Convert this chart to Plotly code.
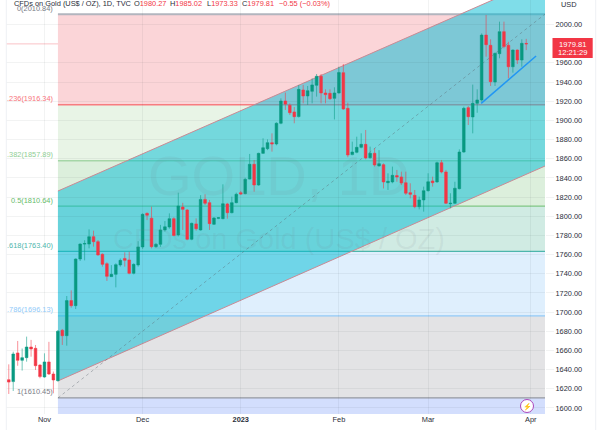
import plotly.graph_objects as go

# candles, trading day number relative to 1 Nov 2022
days = list(range(-8, 109))
opens = [1629.5, 1627.5, 1657.4, 1649.7, 1652.5, 1663.6, 1662.2, 1644.8, 1632.3, 1648.0, 1635.4,
         1628.5, 1681.0, 1675.4, 1712.0, 1706.7, 1755.4, 1771.0, 1771.0, 1778.7, 1773.5, 1760.3,
         1750.5, 1737.0, 1739.4, 1749.2, 1756.0, 1754.4, 1740.5, 1749.2, 1768.0, 1803.0, 1798.0,
         1768.3, 1770.7, 1785.7, 1788.8, 1797.5, 1780.5, 1809.6, 1806.5, 1776.0, 1792.0, 1785.7,
         1817.6, 1814.2, 1791.6, 1797.8, 1797.5, 1812.8, 1803.7, 1814.2, 1824.6, 1823.6, 1838.8,
         1854.2, 1832.6, 1865.6, 1870.5, 1876.8, 1875.4, 1897.0, 1920.2, 1915.7, 1908.8, 1904.0,
         1931.7, 1925.5, 1930.3, 1936.6, 1946.0, 1928.6, 1928.2, 1923.0, 1928.6, 1949.8, 1912.6,
         1864.3, 1866.7, 1871.9, 1875.0, 1861.0, 1865.7, 1852.5, 1853.8, 1835.0, 1835.8, 1842.4,
         1841.0, 1835.0, 1824.6, 1821.8, 1810.0, 1817.0, 1826.7, 1836.8, 1835.8, 1855.9, 1846.2,
         1813.0, 1813.5, 1828.8, 1867.0, 1913.3, 1903.6, 1917.8, 1921.3, 1989.0, 1978.3, 1940.0,
         1969.6, 1992.6, 1978.3, 1956.0, 1973.4, 1963.0, 1980.27]
highs = [1645.5, 1658.7, 1669.9, 1662.0, 1674.4, 1671.0, 1665.7, 1645.5, 1657.0, 1669.0, 1638.0,
         1681.3, 1682.4, 1716.8, 1722.7, 1756.0, 1771.7, 1775.0, 1786.3, 1785.0, 1775.2, 1761.3,
         1752.0, 1749.0, 1750.9, 1756.0, 1762.4, 1763.0, 1750.9, 1774.0, 1803.0, 1804.0, 1810.0,
         1772.0, 1791.0, 1795.0, 1803.0, 1799.0, 1824.6, 1814.0, 1807.5, 1793.3, 1797.8, 1822.0,
         1823.0, 1817.0, 1799.0, 1799.0, 1833.3, 1814.0, 1820.4, 1824.6, 1826.4, 1840.2, 1865.0,
         1858.7, 1866.3, 1881.3, 1880.2, 1886.5, 1898.0, 1923.0, 1929.0, 1917.8, 1914.0, 1937.0,
         1937.0, 1935.9, 1943.9, 1948.4, 1948.4, 1932.4, 1932.4, 1934.5, 1956.0, 1958.8, 1918.5,
         1877.8, 1883.0, 1886.5, 1890.0, 1872.6, 1870.9, 1869.0, 1855.2, 1844.8, 1851.8, 1848.3,
         1846.5, 1846.5, 1834.4, 1827.4, 1820.5, 1830.9, 1844.8, 1841.3, 1857.0, 1858.7, 1848.3,
         1824.0, 1836.0, 1869.8, 1914.3, 1915.0, 1937.3, 1932.4, 1990.8, 2010.0, 1984.6, 1970.7,
         2003.0, 2003.0, 1982.0, 1974.0, 1974.0, 1984.6, 1985.02]
lows = [1614.6, 1617.7, 1644.0, 1639.0, 1648.3, 1653.5, 1639.6, 1631.0, 1631.6, 1634.4, 1615.3,
        1627.5, 1665.7, 1665.0, 1704.6, 1703.2, 1753.3, 1754.0, 1766.5, 1768.3, 1758.9, 1747.4,
        1732.5, 1737.0, 1725.8, 1747.4, 1747.4, 1739.4, 1739.4, 1747.4, 1766.0, 1796.0, 1766.5,
        1767.0, 1768.0, 1784.0, 1787.0, 1779.0, 1779.0, 1785.7, 1775.0, 1775.0, 1785.0, 1785.0,
        1811.7, 1785.7, 1790.9, 1797.0, 1796.8, 1797.5, 1803.0, 1813.5, 1822.2, 1822.9, 1838.5,
        1825.6, 1831.9, 1865.0, 1869.0, 1867.4, 1874.0, 1896.0, 1910.9, 1905.6, 1897.0, 1903.0,
        1917.8, 1916.1, 1917.8, 1924.8, 1917.8, 1917.8, 1921.3, 1901.0, 1928.0, 1911.0, 1861.5,
        1863.6, 1865.7, 1870.9, 1859.4, 1860.1, 1851.8, 1851.8, 1829.0, 1827.4, 1834.4, 1836.0,
        1832.6, 1822.2, 1818.7, 1808.3, 1807.2, 1804.8, 1825.7, 1830.9, 1835.0, 1844.8, 1812.8,
        1808.3, 1812.8, 1828.0, 1866.3, 1895.2, 1886.5, 1908.0, 1919.6, 1966.5, 1935.9, 1935.9,
        1964.8, 1975.2, 1943.9, 1949.8, 1958.8, 1956.0, 1973.33]
closes = [1627.0, 1656.3, 1649.7, 1652.5, 1663.6, 1661.5, 1644.1, 1632.7, 1648.0, 1635.4, 1629.2,
          1680.0, 1675.4, 1712.0, 1706.7, 1755.4, 1771.0, 1771.5, 1778.7, 1773.5, 1759.6, 1749.8,
          1737.3, 1739.4, 1749.5, 1754.0, 1754.0, 1740.5, 1749.8, 1768.0, 1802.0, 1801.0, 1768.3,
          1770.7, 1785.7, 1789.0, 1797.5, 1780.0, 1810.7, 1807.2, 1776.0, 1792.6, 1787.0, 1817.6,
          1813.5, 1792.3, 1798.2, 1798.5, 1813.1, 1803.7, 1814.2, 1822.9, 1823.2, 1838.5, 1854.2,
          1832.6, 1865.6, 1871.5, 1876.8, 1875.4, 1897.0, 1920.2, 1917.0, 1908.0, 1903.9, 1932.4,
          1925.5, 1931.0, 1937.0, 1946.0, 1928.6, 1926.9, 1922.7, 1928.6, 1950.0, 1911.9, 1863.9,
          1867.0, 1871.9, 1875.0, 1860.8, 1865.7, 1853.5, 1854.9, 1835.8, 1836.5, 1842.7, 1841.0,
          1834.7, 1824.0, 1822.9, 1810.0, 1817.0, 1826.7, 1836.0, 1835.0, 1855.9, 1846.2, 1813.5,
          1813.5, 1829.2, 1867.0, 1912.6, 1903.9, 1917.8, 1921.3, 1989.0, 1979.0, 1940.4, 1970.0,
          1992.6, 1977.0, 1956.0, 1973.4, 1963.0, 1980.4, 1979.81]

# x axis
tick_days = [0, 22, 44, 66, 86, 109]
tick_labels = ["Nov", "Dec", "<b>2023</b>", "Feb", "Mar", "Apr"]
x_range = [-8.62, 112.2]
y_range = [1593.7, 2025.6]

# price ticks, 1980 sits behind the price tag
price_ticks = [1600, 1620, 1640, 1660, 1680, 1700, 1720, 1740, 1760, 1780, 1800, 1820, 1840, 1860,
               1880, 1900, 1920, 1940, 1960, 2000]

# fib retracement
fib_prices = [2010.84, 1916.34, 1857.89, 1810.64, 1763.40, 1696.13, 1610.45]
fib_names = ["0", ".236", ".382", "0.5", ".618", ".786", "1"]
fib_lines = ["#b2b5be", "#f77c80", "#a5d6a7", "#81c784", "#4db6ac", "#90caf9", "#9598a1"]
fib_text = ["#787b86", "#f7737a", "#8fce93", "#66bb6a", "#4db6ac", "#90caf9", "#787b86"]
fib_fills = ["#fbd5d8", "#e8f4e6", "#dcefdc", "#d0ebe3", "#dfeffd", "#e3e3e5", "#d3defd"]
fib_start = 3.02

# parallel channel
channel_x = [3.02, 112.2]
channel_upper = [1826.3, 2049.6]
channel_lower = [1628.2, 1852.4]
median_y = [1610.45, 2010.84]

# blue trend line
trend_x = [97.9, 110.2]
trend_y = [1917.8, 1967.2]

last_price = 1979.81

GREEN = "#089981"
RED = "#f23645"
FONT = "Liberation Sans"
TXT = "#2a2e39"

fig = go.Figure()

fig.add_trace(go.Candlestick(
    x=days, open=opens, high=highs, low=lows, close=closes,
    increasing=dict(line=dict(color="rgba(8,153,129,0.55)", width=1), fillcolor=GREEN),
    decreasing=dict(line=dict(color="rgba(242,54,69,0.55)", width=1), fillcolor=RED),
    whiskerwidth=0, showlegend=False, hoverinfo="skip",
))
fig.add_trace(go.Scatter(x=trend_x, y=trend_y, mode="lines", showlegend=False, hoverinfo="skip",
                         line=dict(color="#2196f3", width=1.5)))

shapes = []
# bands, the last one runs to the bottom of the plot
band_edges = fib_prices + [y_range[0]]
for i in range(7):
    shapes.append(dict(type="rect", layer="below", xref="x", yref="y", x0=fib_start, x1=x_range[1],
                       y0=band_edges[i], y1=band_edges[i + 1], fillcolor=fib_fills[i], line_width=0))
for i, p in enumerate(fib_prices):
    shapes.append(dict(type="line", layer="below", xref="x", yref="y", x0=fib_start, x1=x_range[1],
                       y0=p, y1=p, line=dict(color=fib_lines[i], width=2 if i == 0 else 1.3)))
# channel goes over the fib levels
channel_path = (f"M {channel_x[0]} {channel_upper[0]} L {channel_x[1]} {channel_upper[1]} "
                f"L {channel_x[1]} {channel_lower[1]} L {channel_x[0]} {channel_lower[0]} Z")
shapes.append(dict(type="path", layer="below", xref="x", yref="y", path=channel_path,
                   fillcolor="rgba(0,188,212,0.5)", line_width=0))
for edge in [channel_upper, channel_lower]:
    shapes.append(dict(type="line", layer="below", xref="x", yref="y", x0=channel_x[0], x1=channel_x[1],
                       y0=edge[0], y1=edge[1], line=dict(color="#c98a94", width=1)))
shapes.append(dict(type="line", layer="below", xref="x", yref="y", x0=channel_x[0], x1=channel_x[1],
                   y0=median_y[0], y1=median_y[1], line=dict(color="rgba(90,100,110,0.4)", width=1, dash="3px,3px")))
# last price line
shapes.append(dict(type="line", layer="below", xref="paper", yref="y", x0=0, x1=1, y0=last_price, y1=last_price,
                   line=dict(color="rgba(242,54,69,0.3)", width=1)))


def px_x(p):
    return (p - 6) / 539


def px_y(p):
    return (414 - p) / 414


# outer borders of the widget
for p in [6.3, 595.7]:
    shapes.append(dict(type="line", xref="paper", yref="paper", x0=px_x(p), x1=px_x(p), y0=px_y(0), y1=px_y(430),
                       line=dict(color="#eef0f4", width=1)))
# price tag and the lightning badge
shapes.append(dict(type="rect", xref="paper", yref="paper", x0=px_x(552.5), x1=px_x(592.7), y0=px_y(38), y1=px_y(58),
                   fillcolor=RED, line_width=0))
shapes.append(dict(type="circle", xref="paper", yref="paper", x0=px_x(520.5), x1=px_x(533.5), y0=px_y(399.5), y1=px_y(412.5),
                   fillcolor="#ffffff", line=dict(color="#ab47bc", width=1)))

annotations = []


def label(px, py, text, size=7.4, color=TXT, anchor="left"):
    annotations.append(dict(xref="paper", yref="paper", x=px_x(px), y=px_y(py), text=text, showarrow=False,
                            xanchor=anchor, yanchor="middle", font=dict(family=FONT, size=size, color=color)))


# watermark
label(278, 175, "GOLD, 1D", 56, "rgba(120,123,134,0.10)", "center")
label(279, 239, "CFDs on Gold (US$ / OZ)", 29, "rgba(120,123,134,0.10)", "center")

# fib labels
for i, p in enumerate(fib_prices):
    annotations.append(dict(xref="x", yref="y", x=fib_start, y=p, text=f"{fib_names[i]}({p:.2f})", showarrow=False,
                            xanchor="right", yanchor="middle", xshift=-3, yshift=6,
                            font=dict(family=FONT, size=7.4, color=fib_text[i])))

# legend row
label(11.7, 3.5, "CFDs on Gold (US$ / OZ), 1D, TVC")
label(132, 3.5, f'O<span style="color:{RED}">1980.27</span>')
label(168.3, 3.5, f'H<span style="color:{RED}">1985.02</span>')
label(205, 3.5, f'L<span style="color:{RED}">1973.33</span>')
label(240, 3.5, f'C<span style="color:{RED}">1979.81</span>')
label(276.7, 3.5, "−0.55 (−0.03%)", color=RED)

label(559, 4, "USD")
label(572.5, 44, "1979.81", 7.6, "#ffffff", "center")
label(572.5, 52.7, "12:21:29", 7.6, "#ffffff", "center")
label(527, 406, "⚡", 7, "#8e24aa", "center")

fig.update_layout(
    width=602, height=430,
    margin=dict(l=6, r=57, t=0, b=16),
    paper_bgcolor="#ffffff", plot_bgcolor="#ffffff",
    font=dict(family=FONT, size=7.4, color=TXT),
    shapes=shapes, annotations=annotations,
    showlegend=False, boxgap=0.15,
)
fig.update_xaxes(
    range=x_range, tickmode="array", tickvals=tick_days, ticktext=tick_labels,
    showgrid=True, gridcolor="rgba(42,46,57,0.06)", gridwidth=1, zeroline=False, showline=False,
    ticks="", rangeslider_visible=False, tickfont=dict(family=FONT, size=7.4, color=TXT),
)
fig.update_yaxes(
    range=y_range, side="right", tickmode="array", tickvals=price_ticks, tickformat=".2f",
    showgrid=True, gridcolor="rgba(42,46,57,0.06)", gridwidth=1, zeroline=False, showline=False,
    ticks="outside", ticklen=8, tickcolor="rgba(42,46,57,0.06)",
    tickfont=dict(family=FONT, size=7.4, color=TXT),
)

fig.write_html("out.html", config=dict(displayModeBar=False),
               post_script="document.body.style.margin='0';")
